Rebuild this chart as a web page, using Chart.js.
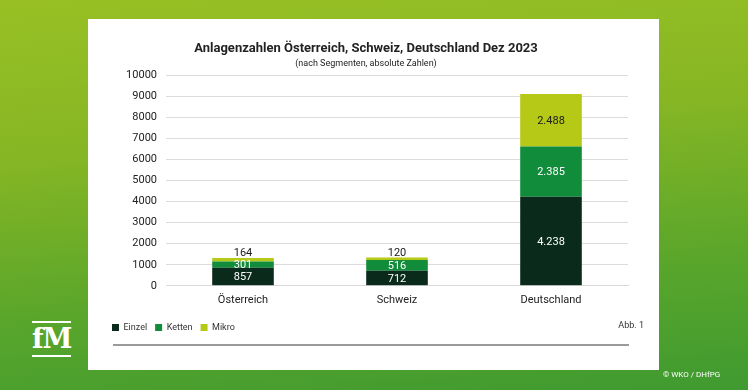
<!DOCTYPE html>
<html>
<head>
<meta charset="utf-8">
<script src="https://cdn.jsdelivr.net/npm/chart.js@4"></script>
<style>
  html, body { margin: 0; padding: 0; }
  body {
    width: 748px; height: 390px; overflow: hidden; position: relative;
    background: linear-gradient(175deg, #98c024 0%, #86b624 35%, #5aa62b 70%, #3f9a30 100%);
    font-family: Roboto, "Noto Sans", sans-serif;
  }
  #panel { position: absolute; left: 88px; top: 19px; width: 571px; height: 351px; background: #fff; }
  #wrap { position: absolute; left: 0; top: 0; width: 571px; height: 351px; }
  #abb { position: absolute; right: 15px; top: 301px; font-size: 9px; color: #333; }
  #rule { position: absolute; left: 25px; width: 516px; top: 325px; height: 0; border-top: 2px solid #9a9a9a; }
  #logo { position: absolute; left: 32px; top: 321px; width: 39px; color: #fff; text-align: center;
    border-top: 2px solid #fff; border-bottom: 2px solid #fff;
    font-family: "DejaVu Serif", serif; font-weight: bold; font-size: 27px; line-height: 32px; letter-spacing: -1px; }
  #copy { position: absolute; left: 663px; top: 370px; color: #fff; font-size: 8px; }
</style>
</head>
<body>
<div id="panel">
  <div id="wrap"><canvas id="barChart"></canvas></div>
  <div id="abb">Abb. 1</div>
  <div id="rule"></div>
</div>
<div id="logo">fM</div>
<div id="copy">© WKO / DHfPG</div>
<script>
// data
const countries = ["Österreich", "Schweiz", "Deutschland"];
const einzel = [857, 712, 4238];
const ketten = [301, 516, 2385];
const mikro = [164, 120, 2488];
const yTicks = [0, 1000, 2000, 3000, 4000, 5000, 6000, 7000, 8000, 9000, 10000];

// draws value labels on the segments
const valueLabels = {
  id: "valueLabels",
  afterDatasetsDraw(chart) {
    const c = chart.ctx;
    c.save();
    c.font = "11px Roboto";
    c.textAlign = "center";
    chart.data.datasets.forEach((ds, i) => {
      const meta = chart.getDatasetMeta(i);
      meta.data.forEach((bar, j) => {
        const v = ds.data[j];
        const txt = v.toLocaleString("de-DE");
        const h = bar.base - bar.y;
        if (i === 2 && h < 15) {
          c.fillStyle = "#1a1a1a";
          c.textBaseline = "bottom";
          c.fillText(txt, bar.x, bar.y + 1);
        } else {
          c.fillStyle = i === 2 ? "#1a1a1a" : "#ffffff";
          c.textBaseline = "middle";
          c.fillText(txt, bar.x, (bar.y + bar.base) / 2 + 1);
        }
      });
    });
    c.restore();
  },
};

const ctx = document.getElementById("barChart");

new Chart(ctx, {
  type: "bar",
  data: {
    labels: countries,
    datasets: [
      { label: "Einzel", data: einzel, backgroundColor: "#0a2b1c" },
      { label: "Ketten", data: ketten, backgroundColor: "#118c3b" },
      { label: "Mikro", data: mikro, backgroundColor: "#b5c916" },
    ],
  },
  options: {
    responsive: true,
    maintainAspectRatio: false,
    animation: false,
    categoryPercentage: 1,
    barPercentage: 0.4,
    layout: { padding: { left: 16, right: 31, top: 10, bottom: 28 } },
    plugins: {
      title: {
        display: true,
        text: "Anlagenzahlen Österreich, Schweiz, Deutschland Dez 2023",
        color: "#222",
        font: { family: "Roboto", size: 13, weight: "bold" },
        padding: { top: 12, bottom: 2 },
      },
      subtitle: {
        display: true,
        text: "(nach Segmenten, absolute Zahlen)",
        color: "#222",
        font: { family: "Roboto", size: 9 },
        padding: { top: 0, bottom: 6 },
      },
      legend: {
        position: "bottom",
        align: "start",
        labels: {
          boxWidth: 7,
          boxHeight: 7,
          padding: 8,
          color: "#333",
          font: { family: "Roboto", size: 9 },
        },
      },
      tooltip: { enabled: false },
    },
    scales: {
      x: {
        stacked: true,
        grid: { display: false, drawTicks: false },
        border: { color: "#d9d9d9" },
        ticks: { color: "#222", font: { family: "Roboto", size: 11 }, padding: 8 },
      },
      y: {
        stacked: true,
        min: 0,
        max: 10000,
        afterFit(scale) { scale.width = 62; },
        afterBuildTicks(scale) { scale.ticks = yTicks.map(v => ({ value: v })); },
        grid: { color: "#dcdcdc", drawTicks: false },
        border: { display: false },
        ticks: {
          color: "#222",
          font: { family: "Roboto", size: 11 },
          padding: 9,
          callback: (v) => String(v),
        },
      },
    },
  },
  plugins: [valueLabels],
});
</script>
</body>
</html>
